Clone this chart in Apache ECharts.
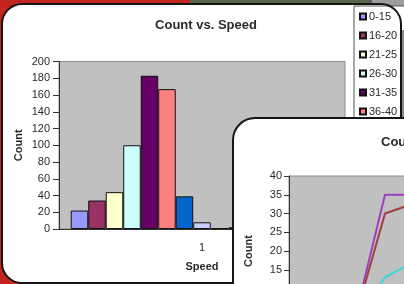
<!DOCTYPE html>
<html>
<head>
<meta charset="utf-8">
<script src="https://cdn.jsdelivr.net/npm/echarts@6/dist/echarts.min.js"></script>
<style>
  html, body { margin: 0; padding: 0; background: #c42420; }
  #chart { width: 404px; height: 284px; }
</style>
</head>
<body>
<div id="chart"></div>
<script>
// ---- data: Count vs. Speed (bar chart) ----
var speedBins = ['0-15', '16-20', '21-25', '26-30', '31-35', '36-40', '41-45', '46-50',
	'51-55', '56-60', '61-65', '66-70', '71-75', '76-80', '81-85'];
var speedCounts = [22, 34, 44, 100, 183, 167, 39, 8, 1, 2, 0, 0, 0, 0, 0];
var speedCategories = ['1'];
var barColors = ['#9999ff', '#993366', '#ffffcc', '#ccffff', '#660066', '#ff8080', '#0066cc',
	'#ccccff', '#000080', '#ff00ff', '#ffff00', '#00ffff', '#800080', '#800000', '#008080'];

// ---- data: second chart (line chart, partly hidden) ----
var timeCategories = ['1', '2', '3', '4', '5', '6', '7', '8', '9', '10'];
var purpleCounts = [0, 0, 0, 35, 35, 35];
var brownCounts = [0, 0, 0, 30, 33, 34];
var cyanCounts = [0, 0, 0, 13, 17.5, 19];

var font = 'Liberation Sans, Arial, sans-serif';
var textColor = '#2a2a2a';

var barSeries = [];
for (var i = 0; i < speedBins.length; i++) {
	barSeries.push({
		name : speedBins[i],
		type : 'bar',
		xAxisIndex : 0,
		yAxisIndex : 0,
		z : 4,
		barGap : 0,
		barCategoryGap : '8.2%',
		itemStyle : {
			color : barColors[i],
			borderColor : '#111',
			borderWidth : 1
		},
		data : [ speedCounts[i] ]
	});
}

function lineSeries(name, color, data) {
	return {
		name : name,
		type : 'line',
		xAxisIndex : 1,
		yAxisIndex : 1,
		z : 13,
		symbol : 'none',
		lineStyle : { color : color, width : 2 },
		itemStyle : { color : color },
		data : data
	};
}

var option = {
	animation : false,
	backgroundColor : '#c42420',
	textStyle : { fontFamily : font },
	graphic : [
		// background pieces
		{ type : 'rect', z : 0, shape : { x : 190, y : 0, width : 214, height : 5 }, style : { fill : '#58654f' } },
		{ type : 'rect', z : 0, shape : { x : 372, y : 0, width : 32, height : 40 }, style : { fill : '#9c9c9c' } },
		// panel 1
		{ type : 'rect', z : 1, shape : { x : 2, y : 4, width : 399, height : 279, r : 20 },
			style : { fill : '#ffffff' } },
		{ type : 'rect', z : 5, shape : { x : 2, y : 4, width : 399, height : 279, r : 20 },
			style : { fill : 'none', stroke : '#151515', lineWidth : 2 } },
		{ type : 'rect', z : 5, shape : { x : 402, y : 30, width : 2, height : 254 }, style : { fill : '#8a8a8a' } },
		// panel 2
		{ type : 'rect', z : 10, shape : { x : 233, y : 118, width : 220, height : 220, r : 22 },
			style : { fill : '#ffffff', stroke : '#151515', lineWidth : 2 } }
	],
	title : [ {
		text : 'Count vs. Speed',
		left : 201,
		top : 14,
		textAlign : 'center',
		z : 4,
		textStyle : { fontFamily : font, fontSize : 13, fontWeight : 'bold', color : textColor }
	}, {
		text : 'Count vs. Time',
		left : 376,
		top : 131,
		z : 13,
		textStyle : { fontFamily : font, fontSize : 13, fontWeight : 'bold', color : textColor }
	} ],
	legend : {
		data : speedBins,
		orient : 'vertical',
		left : 354,
		top : 6,
		z : 4,
		padding : [ 5, 8, 5, 5 ],
		itemWidth : 6,
		itemHeight : 6,
		itemGap : 8,
		icon : 'rect',
		backgroundColor : '#ffffff',
		borderColor : '#555',
		borderWidth : 1,
		borderRadius : 0,
		textStyle : { fontFamily : font, fontSize : 11, color : textColor, padding : [ 0, 0, 0, -2 ] }
	},
	grid : [ {
		left : 59,
		top : 61.5,
		right : 59,
		bottom : 55,
		show : true,
		z : 2,
		outerBoundsMode : 'none',
		backgroundColor : '#c0c0c0',
		borderColor : '#8c8c8c',
		borderWidth : 1
	}, {
		left : 289,
		top : 176,
		width : 288,
		height : 150,
		show : true,
		z : 11,
		outerBoundsMode : 'none',
		backgroundColor : '#c0c0c0',
		borderColor : '#8c8c8c',
		borderWidth : 1
	} ],
	xAxis : [ {
		gridIndex : 0,
		type : 'category',
		data : speedCategories,
		z : 3,
		name : 'Speed',
		nameLocation : 'middle',
		nameGap : 32,
		nameTextStyle : { fontFamily : font, fontSize : 11, fontWeight : 'bold', color : textColor },
		axisLine : { lineStyle : { color : '#333', width : 1 } },
		axisTick : { show : false },
		axisLabel : { margin : 13, fontSize : 11, color : textColor, fontFamily : font },
		splitLine : { show : false }
	}, {
		gridIndex : 1,
		type : 'category',
		data : timeCategories,
		boundaryGap : false,
		z : 12,
		axisLine : { lineStyle : { color : '#333' } },
		axisTick : { show : false },
		axisLabel : { show : false },
		splitLine : { show : false }
	} ],
	yAxis : [ {
		gridIndex : 0,
		type : 'value',
		min : 0,
		max : 200,
		interval : 20,
		z : 3,
		name : 'Count',
		nameLocation : 'middle',
		nameRotate : 90,
		nameGap : 35,
		nameMoveOverlap : false,
		nameTextStyle : { fontFamily : font, fontSize : 11, fontWeight : 'bold', color : textColor },
		axisLine : { show : true, lineStyle : { color : '#333', width : 1 } },
		axisTick : { show : true, length : 6, lineStyle : { color : '#333' } },
		axisLabel : { margin : 9, fontSize : 11, color : textColor, fontFamily : font },
		splitLine : { show : false }
	}, {
		gridIndex : 1,
		type : 'value',
		min : 0,
		max : 40,
		interval : 5,
		z : 12,
		name : 'Count',
		nameLocation : 'middle',
		nameRotate : 90,
		nameGap : 35,
		nameMoveOverlap : false,
		nameTextStyle : { fontFamily : font, fontSize : 11, fontWeight : 'bold', color : textColor },
		axisLine : { show : true, lineStyle : { color : '#333', width : 1 } },
		axisTick : { show : true, length : 5, lineStyle : { color : '#333' } },
		axisLabel : { margin : 7, fontSize : 11, color : textColor, fontFamily : font },
		splitLine : { show : false }
	} ],
	series : barSeries.concat([
		lineSeries('Series A', '#9c3fc4', purpleCounts),
		lineSeries('Series B', '#a0403c', brownCounts),
		lineSeries('Series C', '#38d8d8', cyanCounts)
	])
};

var myChart = echarts.init(document.getElementById('chart'));
myChart.setOption(option);
</script>
</body>
</html>
